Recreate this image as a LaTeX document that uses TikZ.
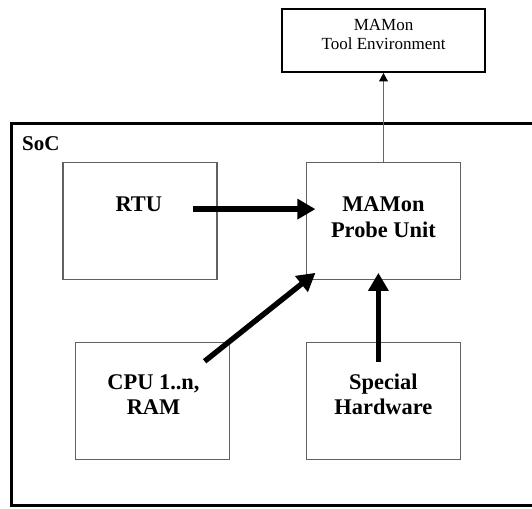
\documentclass[tikz,border=0pt]{standalone}
\usepackage{fontspec}
\setmainfont{Liberation Serif}
\usetikzlibrary{arrows.meta,calc}
\begin{document}
\begin{tikzpicture}[x=1pt,y=-1pt,
  unitbox/.style={draw=black!62,line width=1.3pt,rectangle,inner sep=0pt,
    minimum width=154pt,minimum height=117pt},
  unitlabel/.style={font=\fontsize{22.4}{25.5}\selectfont\bfseries,align=center,inner sep=0pt},
  toolbox/.style={draw=black,line width=2pt,rectangle,inner sep=0pt,
    minimum width=203.5pt,minimum height=63.2pt},
  toollabel/.style={font=\fontsize{17}{19.3}\selectfont,align=center,inner sep=0pt},
  socframe/.style={draw=black,line width=3pt,rectangle,inner sep=0pt,
    minimum width=548.5pt,minimum height=382.3pt},
  socflow/.style={line width=5.4pt,-{Triangle[length=18pt,width=19.5pt]}},
  toolflow/.style={draw=black!60,line width=1pt,-{Triangle[length=8.5pt,width=9pt,color=black]}}
]
\useasboundingbox (0,0) rectangle (532,508);
\clip (0,0) rectangle (532,508);

% system-on-chip frame (runs past the right margin)
\node[socframe] (soc) at (285.75,314.15) {};
\node[font=\fontsize{21}{24}\selectfont\bfseries,inner sep=0pt,anchor=base west] (soclabel) at (22,150.7) {SoC};

% external tool box
\node[toolbox] (tool) at (383.5,40.4) {};
\node[toollabel] (tooltext) at (383.6,34.65) {MAMon\\Tool Environment};

% on-chip units
\node[unitbox] (rtu) at (140,221.2) {};
\node[unitbox] (probe) at (383.5,221.2) {};
\node[unitbox] (cpu) at (152.5,401.2) {};
\node[unitbox] (special) at (383.5,401.2) {};

\node[unitlabel] (rtutext) at (138.8,204.6) {RTU};
\node[unitlabel] (probetext) at (383.4,217.4) {MAMon\\Probe Unit};
\node[unitlabel] (cputext) at (153.5,394.4) {CPU 1..n,\\RAM};
\node[unitlabel] (specialtext) at (383.4,394.4) {Special\\Hardware};

% arrow end points inside the boxes
\coordinate (rtuout) at ($(rtu.center)+(53.4,-12.1)$);
\coordinate (probeinA) at ($(probe.west)+(9.6,-12.1)$);
\coordinate (cpuout) at ($(cpu.center)+(52.1,-39.9)$);
\coordinate (probeinB) at ($(probe.south west)+(9.6,-7.5)$);
\coordinate (specialout) at ($(special.center)+(-5.1,-39.3)$);
\coordinate (probeinC) at ($(probe.south)+(-5.1,-7.5)$);

% data flows into the probe unit
\draw[socflow] (rtuout) -- (probeinA);
\draw[socflow] (cpuout) -- (probeinB);
\draw[socflow] (specialout) -- (probeinC);

% probe unit to tool environment
\draw[toolflow] (probe.north) -- (tool.south);
\end{tikzpicture}
\end{document}
